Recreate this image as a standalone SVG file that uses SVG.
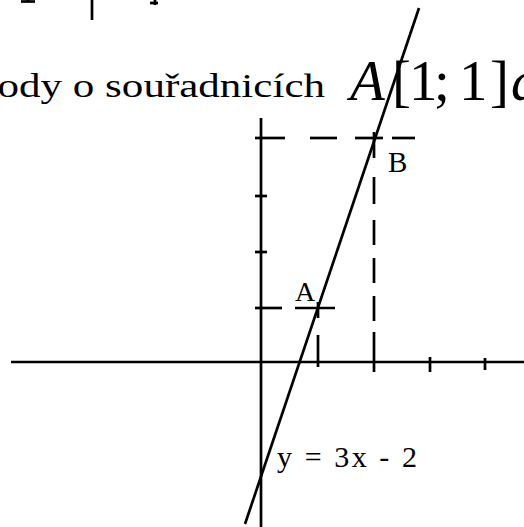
<svg xmlns="http://www.w3.org/2000/svg" width="524" height="527" viewBox="0 0 524 527">
<style>
.ln{stroke:#000;stroke-width:2.7;fill:none;stroke-linecap:butt}
text{font-family:'Liberation Serif','Times New Roman',serif;fill:#000}
.it{font-style:italic}
</style>
<rect width="524" height="527" fill="#fff"/>
<g id="fragments" class="ln">
<line x1="92" y1="0" x2="92" y2="20"/>
<line x1="21" y1="1.5" x2="35" y2="1.5"/>
<line x1="28" y1="0" x2="28" y2="2"/>
<line x1="155" y1="0" x2="155" y2="5"/>
<line x1="150" y1="3" x2="158" y2="3"/>
</g>
<g id="heading">
<text x="-24" y="97" font-size="34" textLength="349" lengthAdjust="spacingAndGlyphs">body o souřadnicích</text>
<text class="it" x="350" y="100" font-size="57">A</text>
<text x="392" y="100" font-size="57">[</text>
<text x="409" y="100" font-size="57">1</text>
<text x="434" y="100" font-size="57">;</text>
<text x="459" y="100" font-size="57">1</text>
<text x="490" y="100" font-size="57">]</text>
<text class="it" x="511" y="100" font-size="57">a</text>
</g>
<g id="axes" class="ln">
<line x1="11" y1="362" x2="524" y2="362"/>
<line x1="261" y1="118" x2="261" y2="527"/>
<line x1="255" y1="196" x2="267" y2="196"/>
<line x1="255" y1="252" x2="267" y2="252"/>
<line x1="430" y1="357" x2="430" y2="372"/>
<line x1="485" y1="358" x2="485" y2="370"/>
</g>
<g id="guides" class="ln">
<line x1="255" y1="138" x2="285" y2="138"/>
<line x1="310" y1="138" x2="337" y2="138"/>
<line x1="355" y1="138" x2="383" y2="138"/>
<line x1="392" y1="138" x2="415" y2="138"/>
<line x1="374" y1="132" x2="374" y2="158"/>
<line x1="374" y1="177" x2="374" y2="204"/>
<line x1="374" y1="220" x2="374" y2="245"/>
<line x1="374" y1="258" x2="374" y2="283"/>
<line x1="374" y1="296" x2="374" y2="321"/>
<line x1="374" y1="332" x2="374" y2="372"/>
<line x1="255" y1="308" x2="282" y2="308"/>
<line x1="295" y1="308" x2="335" y2="308"/>
<line x1="318" y1="302" x2="318" y2="318"/>
<line x1="318" y1="335" x2="318" y2="367"/>
</g>
<g id="graph">
<line class="ln" x1="419" y1="8" x2="245" y2="524"/>
</g>
<g id="labels">
<text x="295" y="301" font-size="28">A</text>
<text x="388" y="172" font-size="29">B</text>
<text x="277" y="467" font-size="30" textLength="140" lengthAdjust="spacing">y = 3x - 2</text>
</g>
</svg>
